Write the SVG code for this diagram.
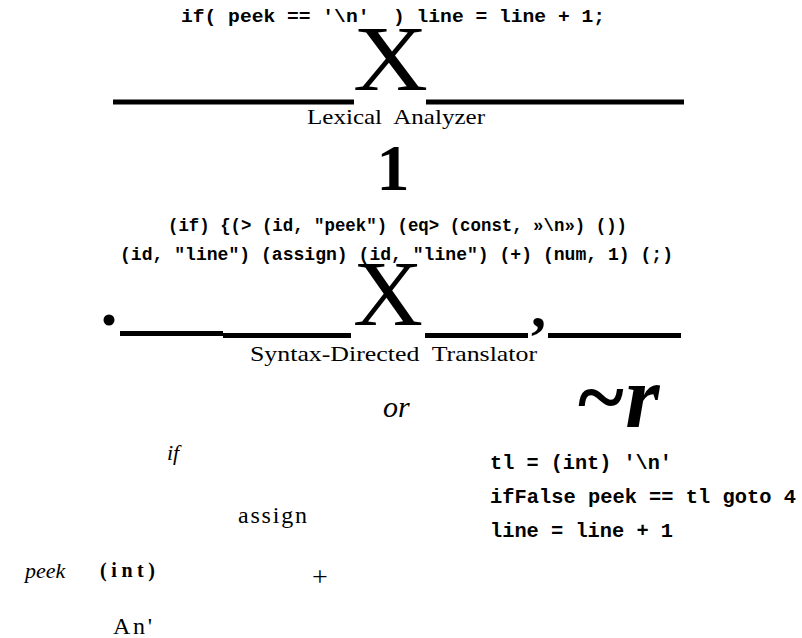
<svg xmlns="http://www.w3.org/2000/svg" width="802" height="638" viewBox="0 0 802 638">
<style>
.mono{font-family:"Liberation Mono","Courier New",monospace;font-weight:bold;fill:#000}
.serif{font-family:"Liberation Serif","Times New Roman",serif;fill:#000}
.it{font-style:italic}
.b{font-weight:bold}
.rule{fill:#000}
</style>
<rect width="802" height="638" fill="#fff"/>
<g id="source">
<text class="mono" x="181" y="22" font-size="19" textLength="424" lengthAdjust="spacingAndGlyphs" xml:space="preserve">if( peek == '\n'  ) line = line + 1;</text>
</g>
<g id="lexical-analyzer">
<text class="serif" x="353" y="90" font-size="94" textLength="75" lengthAdjust="spacingAndGlyphs">X</text>
<text class="serif" x="307" y="124" font-size="21" textLength="178" lengthAdjust="spacingAndGlyphs" xml:space="preserve">Lexical  Analyzer</text>
</g>
<g id="connectors">
<rect class="rule" x="113" y="99.5" width="241" height="5"/>
<rect class="rule" x="426" y="99.5" width="258" height="5"/>
<rect class="rule" x="120" y="331" width="103" height="5"/>
<rect class="rule" x="223" y="333" width="128" height="5"/>
<rect class="rule" x="425" y="333" width="103" height="5"/>
<rect class="rule" x="548" y="333" width="133" height="5"/>
<circle cx="109" cy="320" r="5.5" fill="#000"/>
<text class="serif b" x="531" y="327" font-size="60">,</text>
</g>
<g id="step1">
<text class="serif b" x="393" y="190" font-size="66" text-anchor="middle">1</text>
</g>
<g id="tokens">
<text class="mono" x="168" y="231" font-size="17.5" textLength="459" lengthAdjust="spacingAndGlyphs">(if) {(&gt; (id, "peek") (eq&gt; (const, »\n») ())</text>
<text class="mono" x="120" y="260" font-size="17.5" textLength="553" lengthAdjust="spacingAndGlyphs">(id, "line") (assign) (id, "line") (+) (num, 1) (;)</text>
</g>
<g id="syntax-directed-translator">
<text class="serif" x="353" y="325" font-size="94" textLength="70" lengthAdjust="spacingAndGlyphs">X</text>
<text class="serif" x="250" y="361" font-size="21" textLength="287" lengthAdjust="spacingAndGlyphs" xml:space="preserve">Syntax-Directed  Translator</text>
</g>
<g id="or">
<text class="serif it" x="383" y="417" font-size="30">or</text>
</g>
<g id="tilde-r">
<text class="serif it b" x="575" y="427" font-size="88">~r</text>
</g>
<g id="syntax-tree">
<text class="serif it" x="167" y="460" font-size="22">if</text>
<text class="serif" x="238" y="523" font-size="24" textLength="69" lengthAdjust="spacing">assign</text>
<text class="serif it" x="25" y="578" font-size="22">peek</text>
<text class="serif b" x="100" y="577" font-size="20" textLength="55" lengthAdjust="spacing">(int)</text>
<text class="serif" x="312" y="586" font-size="28">+</text>
<text class="serif" x="113" y="634" font-size="24" textLength="39" lengthAdjust="spacing">An'</text>
</g>
<g id="three-address-code">
<text class="mono" x="490" y="469" font-size="20" textLength="182" lengthAdjust="spacingAndGlyphs">tl = (int) '\n'</text>
<text class="mono" x="490" y="503" font-size="20" textLength="306" lengthAdjust="spacingAndGlyphs">ifFalse peek == tl goto 4</text>
<text class="mono" x="490" y="537" font-size="20" textLength="183" lengthAdjust="spacingAndGlyphs">line = line + 1</text>
</g>
</svg>
